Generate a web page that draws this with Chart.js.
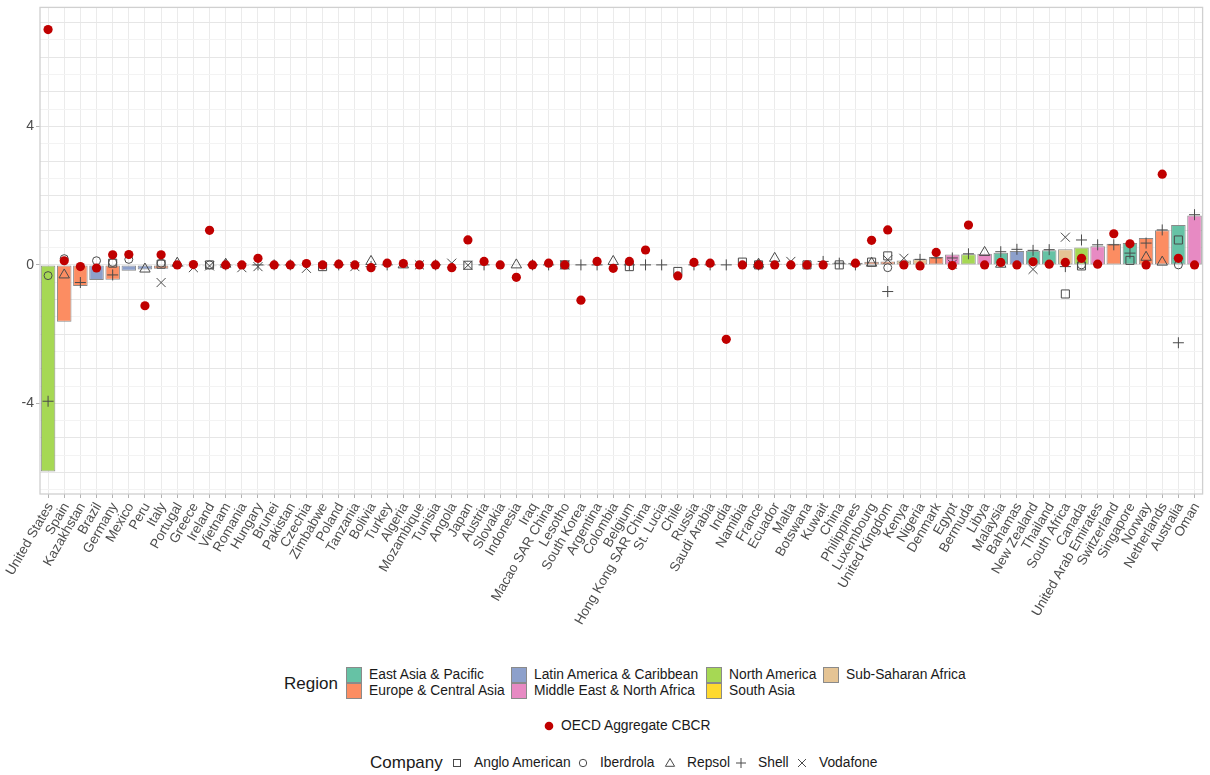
<!DOCTYPE html>
<html>
<head>
<meta charset="utf-8">
<script src="https://cdn.jsdelivr.net/npm/chart.js@4.4.1/dist/chart.umd.min.js"></script>
<style>
  body { margin: 0; background: #fff; font-family: "Liberation Sans", Arial, sans-serif; }
  #wrap { position: relative; width: 1210px; height: 775px; }
  #myChart { position: absolute; left: 0; top: 0; }
  .lg { position: absolute; color: #1a1a1a; white-space: nowrap; line-height: 16px; }
  .title { font-size: 17px; line-height: 20px; }
  .item { font-size: 13.8px; }
  .key { position: absolute; width: 14px; height: 14px; border: 1px solid #8a8a8a; }
</style>
</head>
<body>
<div id="wrap">
  <canvas id="myChart" width="1210" height="645"></canvas>
</div>
<script>
const countries = [
  'United States', 'Spain', 'Kazakhstan', 'Brazil', 'Germany', 'Mexico', 'Peru', 'Italy', 'Portugal', 'Greece',
  'Ireland', 'Vietnam', 'Romania', 'Hungary', 'Brunei', 'Pakistan', 'Czechia', 'Zimbabwe', 'Poland', 'Tanzania',
  'Bolivia', 'Turkey', 'Algeria', 'Mozambique', 'Tunisia', 'Angola', 'Japan', 'Austria', 'Slovakia', 'Indonesia',
  'Iraq', 'Macao SAR China', 'Lesotho', 'South Korea', 'Argentina', 'Colombia', 'Belgium', 'Hong Kong SAR China', 'St. Lucia', 'Chile',
  'Russia', 'Saudi Arabia', 'India', 'Namibia', 'France', 'Ecuador', 'Malta', 'Botswana', 'Kuwait', 'China',
  'Philippines', 'Luxembourg', 'United Kingdom', 'Kenya', 'Nigeria', 'Denmark', 'Egypt', 'Bermuda', 'Libya', 'Malaysia',
  'Bahamas', 'New Zealand', 'Thailand', 'South Africa', 'Canada', 'United Arab Emirates', 'Switzerland', 'Singapore', 'Norway', 'Netherlands',
  'Australia', 'Oman'
];

const regionOf = [
  'NA', 'ECA', 'ECA', 'LAC', 'ECA', 'LAC', 'LAC', 'ECA', 'ECA', 'ECA',
  'ECA', 'EAP', 'ECA', 'ECA', 'EAP', 'SA', 'ECA', 'SSA', 'ECA', 'SSA',
  'LAC', 'ECA', 'MENA', 'SSA', 'MENA', 'SSA', 'EAP', 'ECA', 'ECA', 'EAP',
  'MENA', 'EAP', 'SSA', 'EAP', 'LAC', 'LAC', 'ECA', 'EAP', 'LAC', 'LAC',
  'ECA', 'MENA', 'SA', 'SSA', 'ECA', 'LAC', 'MENA', 'SSA', 'MENA', 'EAP',
  'EAP', 'ECA', 'ECA', 'SSA', 'SSA', 'ECA', 'MENA', 'NA', 'MENA', 'EAP',
  'LAC', 'EAP', 'EAP', 'SSA', 'NA', 'MENA', 'ECA', 'EAP', 'ECA', 'ECA',
  'EAP', 'MENA'
];

const regionCodes = ['EAP', 'ECA', 'LAC', 'MENA', 'NA', 'SA', 'SSA'];
const regionNames = ['East Asia & Pacific', 'Europe & Central Asia', 'Latin America & Caribbean', 'Middle East & North Africa', 'North America', 'South Asia', 'Sub-Saharan Africa'];
const regionColors = ['#66C2A5', '#FC8D62', '#8DA0CB', '#E78AC3', '#A6D854', '#FFD92F', '#E5C494'];

const barValues = [
  -5.97, -1.64, -0.61, -0.44, -0.43, -0.17, -0.13, -0.11, -0.05, -0.04,
  -0.04, -0.03, -0.03, -0.03, -0.03, -0.03, -0.03, -0.02, -0.02, -0.02,
  -0.02, -0.02, -0.02, -0.02, -0.02, -0.02, -0.02, -0.02, -0.01, -0.01,
  -0.01, -0.01, -0.01, -0.01, -0.01, -0.01, -0.01, -0.01, -0.01, -0.01,
  0.01, 0.01, 0.01, 0.02, 0.02, 0.03, 0.03, 0.03, 0.04, 0.05,
  0.06, 0.09, 0.1, 0.13, 0.16, 0.23, 0.3, 0.31, 0.32, 0.35,
  0.4, 0.41, 0.42, 0.45, 0.5, 0.54, 0.61, 0.63, 0.78, 1.0,
  1.15, 1.43
];

const oecdValues = [
  6.8, 0.12, -0.05, -0.09, 0.29, 0.3, -1.18, 0.29, 0, 0.01,
  1.0, 0, 0, 0.19, 0, 0, 0.04, 0, 0.02, 0,
  -0.08, 0.05, 0.04, 0, 0, -0.08, 0.72, 0.1, 0, -0.36,
  0, 0.05, 0, -1.02, 0.1, -0.1, 0.1, 0.43, null, -0.32,
  0.07, 0.05, -2.15, 0, 0, 0, 0, 0, 0, null,
  0.05, 0.71, 1.01, 0, -0.03, 0.36, -0.02, 1.15, 0, 0.07,
  0, 0.09, 0.02, 0.07, 0.19, 0.02, 0.9, 0.61, 0, 2.62,
  0.19, 0
];

// company values, only where the company reports the country
const angloAmerican = {
  'Germany': 0.05, 'Italy': 0.02, 'Ireland': 0, 'Zimbabwe': -0.05, 'Japan': -0.01, 'Lesotho': 0,
  'Belgium': -0.05, 'Chile': -0.19, 'Namibia': 0.08, 'France': 0, 'Botswana': 0, 'China': 0,
  'Luxembourg': 0.08, 'United Kingdom': 0.26, 'South Africa': -0.84, 'Canada': -0.03,
  'Singapore': 0.13, 'Australia': 0.72
};
const iberdrola = {
  'United States': -0.31, 'Spain': 0.18, 'Brazil': 0.12, 'Germany': 0.07, 'Mexico': 0.16,
  'Italy': 0.05, 'Ireland': 0, 'France': 0, 'United Kingdom': -0.08, 'Canada': 0, 'Australia': 0
};
const repsol = {
  'Spain': -0.29, 'Peru': -0.12, 'Portugal': 0.05, 'Vietnam': 0.02, 'Bolivia': 0.1, 'Algeria': 0,
  'Indonesia': 0, 'Colombia': 0.1, 'France': 0.02, 'Ecuador': 0.19, 'Luxembourg': 0.05,
  'Libya': 0.36, 'Malaysia': 0.02, 'Norway': 0.22, 'Netherlands': 0.08
};
const shell = {
  'United States': -3.94, 'Kazakhstan': -0.51, 'Germany': -0.29, 'Vietnam': 0, 'Hungary': 0,
  'Brunei': 0, 'Pakistan': 0, 'Poland': 0, 'Bolivia': -0.05, 'Turkey': 0, 'Tunisia': 0,
  'Austria': 0, 'Iraq': 0, 'Macao SAR China': 0, 'South Korea': 0, 'Argentina': 0, 'Belgium': 0,
  'Hong Kong SAR China': 0, 'St. Lucia': 0, 'Russia': 0, 'Saudi Arabia': 0, 'India': 0, 'France': 0,
  'Kuwait': 0.1, 'China': 0.05, 'Philippines': 0, 'United Kingdom': -0.77, 'Nigeria': 0.16,
  'Denmark': 0.2, 'Egypt': 0.2, 'Bermuda': 0.32, 'Malaysia': 0.38, 'Bahamas': 0.45,
  'New Zealand': 0.42, 'Thailand': 0.44, 'South Africa': -0.05, 'Canada': 0.72,
  'United Arab Emirates': 0.58, 'Switzerland': 0.58, 'Singapore': 0.34, 'Norway': 0.63,
  'Netherlands': 1.01, 'Australia': -2.25, 'Oman': 1.45
};
const vodafone = {
  'Italy': -0.51, 'Greece': -0.08, 'Ireland': -0.03, 'Romania': -0.08, 'Hungary': -0.05,
  'Czechia': -0.1, 'Tanzania': -0.05, 'Mozambique': 0, 'Angola': 0.05, 'Japan': -0.01,
  'Lesotho': 0, 'Malta': 0.1, 'United Kingdom': 0.15, 'Kenya': 0.19, 'Egypt': 0.02,
  'New Zealand': -0.13, 'South Africa': 0.8
};

const yTickLabels = [-4, 0, 4];
const yMin = -6.62, yMax = 7.44;

const companies = [
  { name: 'Anglo American', values: angloAmerican, style: 'rect', radius: 5.7 },
  { name: 'Iberdrola', values: iberdrola, style: 'circle', radius: 4 },
  { name: 'Repsol', values: repsol, style: 'triangle', radius: 6 },
  { name: 'Shell', values: shell, style: 'cross', radius: 5.5 },
  { name: 'Vodafone', values: vodafone, style: 'crossRot', radius: 6.4 }
];

const byCountry = function (obj) {
  return countries.map(c => (c in obj ? obj[c] : null));
};

const fontFamily = '"Liberation Sans", Arial, sans-serif';

const panelBorder = {
  id: 'panelBorder',
  afterDatasetsDraw(chart) {
    const a = chart.chartArea;
    const ctx = chart.ctx;
    ctx.save();
    ctx.strokeStyle = '#d0d0d0';
    ctx.lineWidth = 1.3;
    ctx.strokeRect(a.left, a.top, a.right - a.left, a.bottom - a.top);
    ctx.restore();
  }
};

const makeChart = function () {
  const datasets = [
    {
      type: 'bar',
      label: 'Region',
      data: barValues,
      backgroundColor: regionOf.map(r => regionColors[regionCodes.indexOf(r)]),
      borderColor: '#8a8a8a',
      borderWidth: 1,
      borderSkipped: false,
      barPercentage: 0.9,
      categoryPercentage: 1,
      order: 3
    }
  ];
  companies.forEach(function (c) {
    datasets.push({
      type: 'line',
      label: c.name,
      data: byCountry(c.values),
      showLine: false,
      pointStyle: c.style,
      pointRadius: c.radius,
      pointBorderWidth: 1,
      pointBorderColor: '#4a4a4a',
      pointBackgroundColor: 'rgba(0,0,0,0)',
      order: 2
    });
  });
  datasets.push({
    type: 'line',
    label: 'OECD Aggregate CBCR',
    data: oecdValues,
    showLine: false,
    pointStyle: 'circle',
    pointRadius: 4.6,
    pointBorderWidth: 0,
    pointBackgroundColor: '#C00000',
    pointBorderColor: '#C00000',
    order: 1
  });

  const yGrid = [];
  for (let v = -6.5; v <= 7; v += 0.5) yGrid.push(v);

  new Chart(document.getElementById('myChart').getContext('2d'), {
    type: 'bar',
    data: { labels: countries, datasets: datasets },
    options: {
      responsive: false,
      animation: false,
      devicePixelRatio: 1,
      layout: { padding: { top: 7, right: 3, left: 0, bottom: 0 } },
      plugins: { legend: { display: false }, tooltip: { enabled: false } },
      scales: {
        x: {
          offset: true,
          grid: { offset: false, color: '#ebebeb', lineWidth: 1, drawTicks: true, tickLength: 4, tickColor: '#b3b3b3' },
          border: { display: false },
          ticks: {
            autoSkip: false,
            minRotation: 60,
            maxRotation: 60,
            padding: 2,
            labelOffset: 2,
            color: '#4d4d4d',
            font: { family: fontFamily, size: 13.5 }
          },
          afterFit: function (s) {
            s.height = 151;
            s.paddingLeft = 0;
            s.paddingRight = 0;
          }
        },
        y: {
          min: yMin,
          max: yMax,
          afterBuildTicks: function (s) {
            s.ticks = yGrid.map(v => ({ value: v }));
          },
          grid: {
            color: ctx => (Number.isInteger(ctx.tick.value) ? '#e6e6e6' : '#f3f3f3'),
            lineWidth: 1,
            tickLength: 4,
            tickColor: ctx => (yTickLabels.includes(ctx.tick.value) ? '#b3b3b3' : 'rgba(0,0,0,0)')
          },
          border: { display: false },
          ticks: {
            autoSkip: false,
            padding: 2,
            color: '#4d4d4d',
            font: { family: fontFamily, size: 14 },
            callback: v => (yTickLabels.includes(v) ? String(v) : '')
          },
          afterFit: function (s) {
            s.width = 40;
            s.paddingTop = 0;
            s.paddingBottom = 0;
          }
        }
      }
    },
    plugins: [panelBorder]
  });
};

// legend below the plot, ggplot style
const addText = function (text, x, y, cls) {
  const d = document.createElement('div');
  d.className = 'lg ' + cls;
  d.textContent = text;
  d.style.left = x + 'px';
  d.style.top = y + 'px';
  document.getElementById('wrap').appendChild(d);
  return d;
};

const addSvg = function (inner, cx, cy) {
  const ns = 'http://www.w3.org/2000/svg';
  const svg = document.createElementNS(ns, 'svg');
  svg.setAttribute('width', 14);
  svg.setAttribute('height', 14);
  svg.setAttribute('viewBox', '-7 -7 14 14');
  svg.style.position = 'absolute';
  svg.style.left = (cx - 7) + 'px';
  svg.style.top = (cy - 7) + 'px';
  svg.innerHTML = inner;
  document.getElementById('wrap').appendChild(svg);
};

const makeLegend = function () {
  addText('Region', 284, 674, 'title');
  const cols = [346, 511, 706, 823];
  const rows = [667, 683];
  regionNames.forEach(function (name, i) {
    const col = Math.floor(i / 2), row = i % 2;
    const k = document.createElement('div');
    k.className = 'key';
    k.style.left = cols[col] + 'px';
    k.style.top = rows[row] + 'px';
    k.style.background = regionColors[i];
    document.getElementById('wrap').appendChild(k);
    addText(name, cols[col] + 23, rows[row], 'item');
  });

  addSvg('<circle r="4.3" fill="#C00000"/>', 549, 726);
  addText('OECD Aggregate CBCR', 561, 718, 'item');

  addText('Company', 370, 753, 'title');
  const stroke = 'fill="none" stroke="#4a4a4a" stroke-width="1"';
  const shapes = [
    '<rect x="-3.5" y="-3.5" width="7" height="7" ' + stroke + '/>',
    '<circle r="3.7" ' + stroke + '/>',
    '<polygon points="0,-4.5 4.6,3.3 -4.6,3.3" ' + stroke + '/>',
    '<path d="M-5,0H5M0,-5V5" ' + stroke + '/>',
    '<path d="M-4,-4L4,4M-4,4L4,-4" ' + stroke + '/>'
  ];
  const symX = [457, 583, 670, 741, 802];
  companies.forEach(function (c, i) {
    addSvg(shapes[i], symX[i], 763);
    addText(c.name, symX[i] + 17, 755, 'item');
  });
};

document.addEventListener('DOMContentLoaded', function () {
  makeChart();
  makeLegend();
});
</script>
</body>
</html>
